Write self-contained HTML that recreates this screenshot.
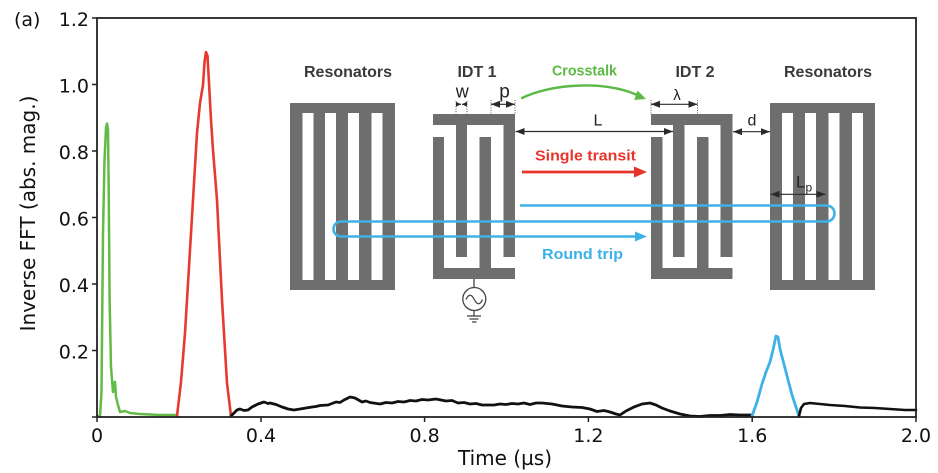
<!DOCTYPE html>
<html>
<head>
<meta charset="utf-8">
<style>
  html,body{margin:0;padding:0;background:#fff;}
  svg{display:block;}
  .tk{font-family:"DejaVu Sans","Liberation Sans",sans-serif;font-size:19px;fill:#111;}
  .ax{font-family:"DejaVu Sans","Liberation Sans",sans-serif;font-size:20px;fill:#111;}
  .hd{font-family:"Liberation Sans",Arial,sans-serif;font-size:16px;font-weight:bold;fill:#3a3a3a;}
  .lb{font-family:"Liberation Sans",Arial,sans-serif;font-size:15px;font-weight:bold;}
  .dm{font-family:"Liberation Sans",Arial,sans-serif;fill:#222;}
</style>
</head>
<body>
<svg width="938" height="473" viewBox="0 0 938 473" xmlns="http://www.w3.org/2000/svg">
  <defs>
    <marker id="ak" markerUnits="userSpaceOnUse" markerWidth="10" markerHeight="8" refX="9" refY="3.5" orient="auto-start-reverse">
      <path d="M0,0 L9,3.5 L0,7 z" fill="#2a2a2a"/>
    </marker>
    <marker id="aks" markerUnits="userSpaceOnUse" markerWidth="6" markerHeight="6" refX="5" refY="2.5" orient="auto-start-reverse">
      <path d="M0,0 L5,2.5 L0,5 z" fill="#2a2a2a"/>
    </marker>
  </defs>

  <!-- (a) label -->
  <text x="14" y="26" class="ax" style="font-size:19px">(a)</text>

  <!-- Y axis label -->
  <text class="ax" transform="translate(35,213.5) rotate(-90)" text-anchor="middle">Inverse FFT (abs. mag.)</text>

  <!-- Y tick labels -->
  <g class="tk" text-anchor="end">
    <text x="89" y="26">1.2</text>
    <text x="89" y="92.5">1.0</text>
    <text x="89" y="159">0.8</text>
    <text x="89" y="225.5">0.6</text>
    <text x="89" y="292">0.4</text>
    <text x="89" y="358.5">0.2</text>
  </g>
  <!-- X tick labels -->
  <g class="tk" text-anchor="middle">
    <text x="97" y="442">0</text>
    <text x="261" y="442">0.4</text>
    <text x="424.6" y="442">0.8</text>
    <text x="588.4" y="442">1.2</text>
    <text x="752.2" y="442">1.6</text>
    <text x="916" y="442">2.0</text>
  </g>
  <text x="505" y="465" class="ax" text-anchor="middle">Time (µs)</text>

  <!-- ticks -->
  <g stroke="#222" stroke-width="1.5">
    <line x1="92" y1="18" x2="97" y2="18"/>
    <line x1="92" y1="84.5" x2="97" y2="84.5"/>
    <line x1="92" y1="151" x2="97" y2="151"/>
    <line x1="92" y1="217.5" x2="97" y2="217.5"/>
    <line x1="92" y1="284" x2="97" y2="284"/>
    <line x1="92" y1="350.5" x2="97" y2="350.5"/>
    <line x1="92" y1="417" x2="97" y2="417"/>
    <line x1="97" y1="417" x2="97" y2="422"/>
    <line x1="261" y1="417" x2="261" y2="422"/>
    <line x1="424.6" y1="417" x2="424.6" y2="422"/>
    <line x1="588.4" y1="417" x2="588.4" y2="422"/>
    <line x1="752.2" y1="417" x2="752.2" y2="422"/>
    <line x1="916" y1="417" x2="916" y2="422"/>
  </g>

  <!-- curves -->
  <g fill="none" stroke-linejoin="round" stroke-linecap="round">
    <path stroke="#62bb45" stroke-width="2.5" d="M97,416 L100,416 L101.5,392 L103,233 L104.5,160 L106,128 L107,123.5 L108,130 L108.8,200 L109.6,300 L111,367 L113,392 L114,383 L115,382 L116,397 L118,405 L120,412 L125,411 L130,413 L140,414 L160,415 L177,415"/>
    <path stroke="#e8392e" stroke-width="2.6" d="M177,416 L181,382 L185,333 L190,250 L193,200 L197,133 L200,103 L203,85 L204.5,62 L206,52 L207.5,56 L209,83 L211,120 L213,150 L217,200 L222,300 L227,383 L231,416"/>
    <path stroke="#111" stroke-width="2.8" d="M231,416 L234,413 L237,410 L240,409 L244,410.5 L248,410 L252,407 L256,405 L258,404 L264,402 L268,403.5 L270,403 L276,404.5 L282,407 L288,409 L294,410 L300,409 L306,408 L312,407 L316,406.5 L320,405.5 L328,405 L336,402 L340,402.5 L344,400 L350,397 L355,398 L362,402 L366,401 L370,402.5 L380,404 L386,402.5 L392,403 L398,401.5 L404,402 L410,400.5 L416,401 L422,399.5 L428,400 L436,399 L446,401 L452,400.5 L458,403 L464,402.5 L470,404 L476,403.5 L482,405 L494,405 L500,404 L506,404.5 L512,403.5 L518,404 L524,403 L530,404.5 L536,403 L542,403 L552,404 L562,406 L572,407 L582,407.5 L590,409 L597,411.5 L604,410.5 L610,412 L616,414 L620,415 L626,411 L634,407 L642,404 L650,403 L656,405 L662,408 L670,411 L680,414 L690,416 L700,416.5 L710,415.5 L720,415.5 L730,414.5 L740,415 L752,415"/>
    <path stroke="#3eb1e6" stroke-width="2.8" d="M752,416 L757,402 L762,384 L766,372 L770,362 L773,350 L776,336 L778,337 L780,349 L786,372 L792,395 L799,416"/>
    <path stroke="#111" stroke-width="2.6" d="M799,416 L801,408 L804,404 L810,403 L820,404 L830,405 L845,406 L860,407.5 L875,408 L890,409 L905,410 L916,410"/>
  </g>

  <!-- frame -->
  <rect x="97" y="18" width="819" height="399" fill="none" stroke="#222" stroke-width="1.8"/>

  <!-- ===== Inset diagram ===== -->
  <text x="348" y="77" class="hd" text-anchor="middle">Resonators</text>
  <text x="477" y="77" class="hd" text-anchor="middle">IDT 1</text>
  <text x="695" y="77" class="hd" text-anchor="middle">IDT 2</text>
  <text x="828" y="77" class="hd" text-anchor="middle">Resonators</text>

  <!-- Left resonator -->
  <rect x="290" y="103" width="105" height="187" fill="#6e6e6e"/>
  <g fill="#fff">
    <rect x="302.5" y="113" width="11" height="167"/>
    <rect x="325" y="113" width="11" height="167"/>
    <rect x="348" y="113" width="11" height="167"/>
    <rect x="371.5" y="113" width="11" height="167"/>
  </g>

  <!-- Right resonator -->
  <rect x="770" y="103" width="105" height="187" fill="#6e6e6e"/>
  <g fill="#fff">
    <rect x="782" y="113" width="11" height="167"/>
    <rect x="805" y="113" width="11" height="167"/>
    <rect x="828.5" y="113" width="11" height="167"/>
    <rect x="852" y="113" width="11" height="167"/>
  </g>

  <!-- IDT 1 -->
  <g fill="#6e6e6e">
    <rect x="433" y="114" width="82" height="11"/>
    <rect x="433" y="268" width="82" height="11"/>
    <rect x="433" y="137" width="11" height="131"/>
    <rect x="479.5" y="137" width="11.5" height="131"/>
    <rect x="456" y="125" width="11" height="132"/>
    <rect x="503.5" y="125" width="11.5" height="132"/>
  </g>
  <!-- IDT 2 -->
  <g fill="#6e6e6e">
    <rect x="651" y="114" width="81.5" height="11"/>
    <rect x="651" y="268" width="81.5" height="11"/>
    <rect x="651" y="137" width="11.5" height="131"/>
    <rect x="697" y="137" width="11.5" height="131"/>
    <rect x="673" y="125" width="11.5" height="132"/>
    <rect x="720.5" y="125" width="12" height="132"/>
  </g>

  <!-- Source + ground -->
  <g stroke="#444" stroke-width="1.3" fill="none">
    <line x1="474" y1="279" x2="474" y2="287.5"/>
    <circle cx="474.3" cy="299" r="11.5" fill="#fff"/>
    <path d="M466,299.5 Q470,291 474.3,299.5 T482.6,299.5"/>
    <line x1="474" y1="310.5" x2="474" y2="316"/>
    <line x1="467" y1="316" x2="481" y2="316"/>
    <line x1="469.5" y1="319" x2="478.5" y2="319"/>
    <line x1="472" y1="322" x2="476.5" y2="322"/>
  </g>

  <!-- dimension dotted lines -->
  <g stroke="#444" stroke-width="0.9" stroke-dasharray="1,1.5">
    <line x1="456" y1="101" x2="456" y2="114"/>
    <line x1="467" y1="101" x2="467" y2="114"/>
    <line x1="491" y1="100" x2="491" y2="114"/>
    <line x1="515" y1="100" x2="515" y2="114"/>
    <line x1="651" y1="100" x2="651" y2="114"/>
    <line x1="697.5" y1="100" x2="697.5" y2="114"/>
  </g>
  <!-- dimension arrows -->
  <g stroke="#2a2a2a" stroke-width="1.2" fill="none">
    <line x1="456" y1="104.3" x2="461" y2="104.3" marker-end="url(#aks)"/>
    <line x1="467" y1="104.3" x2="462" y2="104.3" marker-end="url(#aks)"/>
    <line x1="491" y1="104.3" x2="515" y2="104.3" marker-start="url(#ak)" marker-end="url(#ak)"/>
    <line x1="651" y1="104.3" x2="697.5" y2="104.3" marker-start="url(#ak)" marker-end="url(#ak)"/>
    <line x1="515.5" y1="131.5" x2="673" y2="131.5" marker-start="url(#ak)" marker-end="url(#ak)"/>
    <line x1="733" y1="131.7" x2="770" y2="131.7" marker-start="url(#ak)" marker-end="url(#ak)"/>
    <line x1="770.5" y1="194.3" x2="825.5" y2="194.3" marker-start="url(#ak)" marker-end="url(#ak)"/>
  </g>
  <text x="462.3" y="97.7" class="dm" style="font-size:18px" text-anchor="middle">w</text>
  <text x="504.5" y="97.7" class="dm" style="font-size:19px" text-anchor="middle">p</text>
  <text x="677" y="100" class="dm" style="font-size:15px" text-anchor="middle">λ</text>
  <text x="598" y="125.7" class="dm" style="font-size:16px" text-anchor="middle">L</text>
  <text x="752" y="125.7" class="dm" style="font-size:16px" text-anchor="middle">d</text>
  <text x="796" y="187.3" class="dm" style="font-size:17px">L<tspan dy="4" style="font-size:12px">p</tspan></text>

  <!-- Crosstalk -->
  <text x="584.5" y="75.5" class="lb" fill="#5cb946" text-anchor="middle" textLength="65" lengthAdjust="spacingAndGlyphs">Crosstalk</text>
  <path d="M522,98 C550,84 605,80 637,95" fill="none" stroke="#5cb946" stroke-width="2.4" stroke-linecap="round"/>
  <polygon points="646,99 634.2,100 637.5,90.5" fill="#5cb946"/>

  <!-- Single transit -->
  <text x="585.5" y="160.5" class="lb" fill="#e8352c" text-anchor="middle" textLength="101" lengthAdjust="spacingAndGlyphs">Single transit</text>
  <line x1="522" y1="172" x2="636" y2="172" stroke="#e8352c" stroke-width="2.8"/>
  <polygon points="647,172 634,166.5 634,177.5" fill="#e8352c"/>

  <!-- Round trip -->
  <path d="M520,205.5 L826.5,205.5 A8,8 0 0 1 826.5,221.5 L341,221.5 A7.5,7.5 0 0 0 341,236.5 L637,236.5" fill="none" stroke="#3eb1e6" stroke-width="2.6"/>
  <polygon points="647,236.5 635,231.5 635,241.5" fill="#3eb1e6"/>
  <text x="582.5" y="259" class="lb" fill="#3eb1e6" text-anchor="middle" textLength="81" lengthAdjust="spacingAndGlyphs">Round trip</text>
</svg>
</body>
</html>
